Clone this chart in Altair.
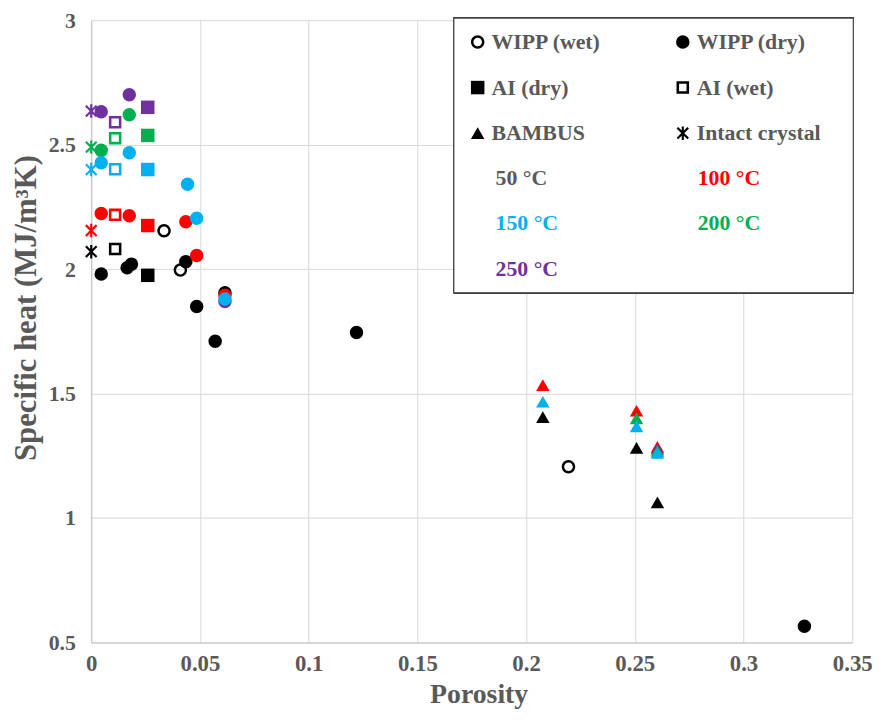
import altair as alt
import pandas as pd

# ---------------- data ----------------
materials = ["WIPP (wet)", "WIPP (dry)", "AI (dry)", "AI (wet)", "BAMBUS", "Intact crystal"]
temps = ["50 °C", "100 °C", "150 °C", "200 °C", "250 °C"]
temp_colors = ["#000000", "#ff0000", "#00b0f0", "#00b050", "#7030a0"]

# WIPP (dry)
wipp_dry_por_50 = [0.0046, 0.0165, 0.0185, 0.0435, 0.0485, 0.057, 0.0615, 0.122, 0.328]
wipp_dry_50 = [1.98, 2.005, 2.02, 2.03, 1.85, 1.71, 1.905, 1.745, 0.565]
wipp_dry_por_100 = [0.0046, 0.0175, 0.0435, 0.0485, 0.0615]
wipp_dry_100 = [2.223, 2.214, 2.19, 2.055, 1.895]
wipp_dry_por_150 = [0.0046, 0.0175, 0.0443, 0.0485, 0.0615]
wipp_dry_150 = [2.427, 2.467, 2.341, 2.204, 1.88]
wipp_dry_por_200 = [0.0046, 0.0175]
wipp_dry_200 = [2.477, 2.62]
wipp_dry_por_250 = [0.0046, 0.0175, 0.0615]
wipp_dry_250 = [2.632, 2.70, 1.87]

# WIPP (wet) - 50 °C only
wipp_wet_por_50 = [0.0335, 0.041, 0.2195]
wipp_wet_50 = [2.154, 1.996, 1.206]

# AI (dry) / AI (wet): one sample each, values at 50..250 °C
ai_dry_por = 0.026
ai_dry = [1.975, 2.175, 2.40, 2.537, 2.65]
ai_wet_por = 0.011
ai_wet = [2.081, 2.218, 2.401, 2.526, 2.59]

# Intact crystal: values at 50..250 °C
intact_por = 0.0
intact = [2.07, 2.155, 2.40, 2.49, 2.635]

# BAMBUS
bambus_por_50 = [0.2077, 0.2508, 0.2604]
bambus_50 = [1.405, 1.282, 1.063]
bambus_por_100 = [0.2077, 0.2508, 0.2604]
bambus_100 = [1.534, 1.431, 1.286]
bambus_por_150 = [0.2077, 0.2508, 0.2604]
bambus_150 = [1.467, 1.368, 1.262]
bambus_por_200 = [0.2508, 0.2604]
bambus_200 = [1.40, 1.27]
bambus_por_250 = [0.2604]
bambus_250 = [1.278]

# ---------------- table ----------------
rows = []


def add(material, temp, por, vals):
    for p, v in zip(por, vals):
        rows.append({"material": material, "temp": temp, "porosity": p, "heat": v})


draw_order = ["50 °C", "100 °C", "250 °C", "200 °C", "150 °C"]
wipp_dry = {"50 °C": (wipp_dry_por_50, wipp_dry_50), "100 °C": (wipp_dry_por_100, wipp_dry_100),
            "150 °C": (wipp_dry_por_150, wipp_dry_150), "200 °C": (wipp_dry_por_200, wipp_dry_200),
            "250 °C": (wipp_dry_por_250, wipp_dry_250)}
bambus = {"50 °C": (bambus_por_50, bambus_50), "100 °C": (bambus_por_100, bambus_100),
          "150 °C": (bambus_por_150, bambus_150), "200 °C": (bambus_por_200, bambus_200),
          "250 °C": (bambus_por_250, bambus_250)}

for t in draw_order:
    i = temps.index(t)
    add("WIPP (dry)", t, *wipp_dry[t])
    add("BAMBUS", t, *bambus[t])
    add("AI (dry)", t, [ai_dry_por], [ai_dry[i]])
    add("AI (wet)", t, [ai_wet_por], [ai_wet[i]])
    add("Intact crystal", t, [intact_por], [intact[i]])
    if t == "50 °C":
        add("WIPP (wet)", t, wipp_wet_por_50, wipp_wet_50)

df = pd.DataFrame(rows)

# ---------------- styling ----------------
FONT = "Liberation Serif"
TXT = "#595959"
# filled marker shapes (open markers are rings, the asterisk is three thin bars)
ring = ("M1,0A1,1 0 1,1 -1,0A1,1 0 1,1 1,0Z"
        "M0.64,0A0.64,0.64 0 1,0 -0.64,0A0.64,0.64 0 1,0 0.64,0Z")
open_square = "M-0.93,-0.93H0.93V0.93H-0.93Z M-0.55,-0.55V0.55H0.55V-0.55Z"
asterisk = ("M-0.16,-1H0.16V1H-0.16Z"
            "M-0.687,-0.913L0.913,0.687L0.687,0.913L-0.913,-0.687Z"
            "M-0.687,0.913L-0.913,0.687L0.687,-0.913L0.913,-0.687Z")
shape_range = [ring, "circle", "square", open_square, "triangle-up", asterisk]

label_color_expr = ("datum.value == '100 °C' ? '#ff0000' : datum.value == '150 °C' ? '#00b0f0' : "
                    "datum.value == '200 °C' ? '#00b050' : datum.value == '250 °C' ? '#7030a0' : '#595959'")

x_axis = alt.Axis(values=[0, 0.05, 0.1, 0.15, 0.2, 0.25, 0.3, 0.35], format="~g", title="Porosity",
                  labelFont=FONT, labelFontSize=23, labelFontWeight="bold", labelColor=TXT,
                  titleFont=FONT, titleFontSize=28, titleFontWeight="bold", titleColor=TXT,
                  ticks=False, labelPadding=10, titlePadding=6, titleX=391, gridColor="#d9d9d9",
                  domainColor="#bfbfbf", labelFlush=False)
y_axis = alt.Axis(values=[0.5, 1, 1.5, 2, 2.5, 3], format="~g", title="Specific heat (MJ/m³K)",
                  labelFont=FONT, labelFontSize=22, labelFontWeight="bold", labelColor=TXT,
                  titleFont=FONT, titleFontSize=31, titleFontWeight="bold", titleColor=TXT,
                  ticks=False, labelPadding=16, titlePadding=6, titleY=290, gridColor="#d9d9d9",
                  domainColor="#bfbfbf", labelFlush=False)

box = alt.Chart(df).mark_rect(fill="white", stroke="#404040", strokeWidth=1).encode(
    x=alt.value(366), x2=alt.value(769), y=alt.value(-2), y2=alt.value(275)
)

points = alt.Chart(df).mark_point(size=185, filled=True, opacity=1).encode(
    x=alt.X("porosity:Q", scale=alt.Scale(domain=[0, 0.35], nice=False), axis=x_axis),
    y=alt.Y("heat:Q", scale=alt.Scale(domain=[0.5, 3], nice=False, zero=False), axis=y_axis),
    shape=alt.Shape("material:N", scale=alt.Scale(domain=materials, range=shape_range),
                    legend=alt.Legend(title=None, orient="none", legendX=379, legendY=11,
                                      direction="horizontal", columns=2,
                                      columnPadding=71, rowPadding=24,
                                      symbolSize=185, symbolStrokeWidth=0,
                                      symbolFillColor="black",
                                      labelFont=FONT, labelFontSize=22, labelFontWeight="bold",
                                      labelColor=TXT, labelOffset=3, labelLimit=300)),
    color=alt.Color("temp:N", scale=alt.Scale(domain=temps, range=temp_colors),
                    legend=alt.Legend(title=None, orient="none", legendX=386, legendY=148,
                                      direction="horizontal", columns=2,
                                      columnPadding=118, rowPadding=24,
                                      symbolSize=0, symbolOpacity=0, symbolStrokeWidth=0,
                                      labelFont=FONT, labelFontSize=22, labelFontWeight="bold",
                                      labelColor=alt.ExprRef(expr=label_color_expr),
                                      labelOffset=0, labelLimit=300)),
)

chart = alt.layer(box, points).properties(
    width=768, height=628,
    autosize=alt.AutoSizeParams(type="none"),
    padding={"left": 84, "top": 9, "right": 26, "bottom": 80},
).configure_view(stroke=None)

chart.save("out.html", embed_options={"renderer": "svg", "actions": False})
